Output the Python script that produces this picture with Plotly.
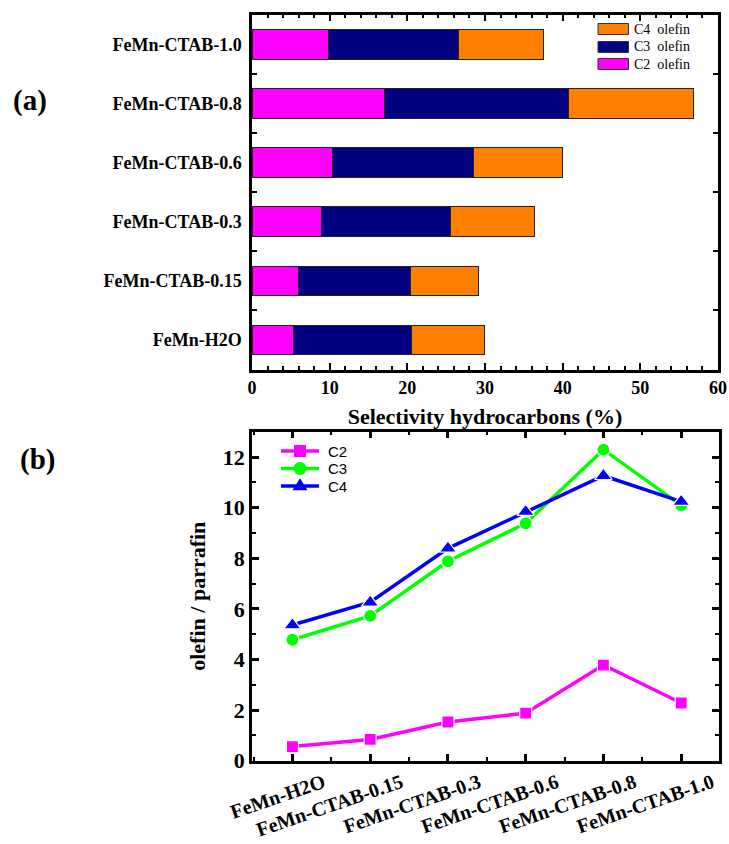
import plotly.graph_objects as go

# ---------------- data ----------------
categories = ["FeMn-H2O", "FeMn-CTAB-0.15", "FeMn-CTAB-0.3",
              "FeMn-CTAB-0.6", "FeMn-CTAB-0.8", "FeMn-CTAB-1.0"]

# (a) stacked selectivity (%)
c2_olefin = [5.3, 6.0, 8.9, 10.3, 17.0, 9.9]
c3_olefin = [15.2, 14.4, 16.7, 18.2, 23.8, 16.7]
c4_olefin = [9.4, 8.8, 10.8, 11.5, 16.0, 10.9]
bar_names = ["C2  olefin", "C3  olefin", "C4  olefin"]
bar_colors = ["#FF00FF", "#000080", "#FF8000"]

# (b) olefin / paraffin ratio
ratio_c2 = [0.56, 0.84, 1.53, 1.88, 3.78, 2.28]
ratio_c3 = [4.78, 5.72, 7.88, 9.38, 12.29, 10.09]
ratio_c4 = [5.36, 6.26, 8.39, 9.84, 11.26, 10.24]
line_names = ["C2", "C3", "C4"]
line_colors = ["#FF00FF", "#00FF00", "#0000FF"]
line_symbols = ["square", "circle", "triangle-up"]
line_msize = [12, 13, 15]

x_ticks_a = [0, 10, 20, 30, 40, 50, 60]
y_ticks_b = [0, 2, 4, 6, 8, 10, 12]

SERIF = "Times New Roman, Liberation Serif, serif"
SANS = "Arial, Liberation Sans, sans-serif"
W, H = 729, 844

fig = go.Figure()

# ---- (a) bars ----
for vals, name, col in zip([c2_olefin, c3_olefin, c4_olefin], bar_names, bar_colors):
    fig.add_trace(go.Bar(
        y=categories, x=vals, orientation="h", name=name,
        marker=dict(color=col, line=dict(color="#222222", width=1)),
        showlegend=False, xaxis="x", yaxis="y"))

# ---- (b) lines ----
xpos = list(range(len(categories)))
for vals, name, col, sym, ms in zip([ratio_c2, ratio_c3, ratio_c4], line_names,
                                    line_colors, line_symbols, line_msize):
    fig.add_trace(go.Scatter(
        x=xpos, y=vals, name=name, mode="lines+markers",
        line=dict(color=col, width=3.5),
        marker=dict(symbol=sym, size=ms, color=col, line=dict(color="white", width=1.2)),
        showlegend=False, xaxis="x2", yaxis="y2"))

def px_x(v):
    return v / W

def px_y(v):
    return 1 - v / H

axis_common = dict(showline=True, linecolor="black", linewidth=2.5, mirror="ticks",
                   ticks="inside", tickcolor="black", showgrid=False, zeroline=False,
                   automargin=False)

fig.update_layout(
    width=W, height=H, autosize=False,
    margin=dict(l=0, r=0, t=0, b=0),
    paper_bgcolor="white", plot_bgcolor="white",
    barmode="stack", bargap=0.5, showlegend=False,
    xaxis=dict(domain=[px_x(252), px_x(718)], anchor="y", range=[0, 60],
               tickvals=x_ticks_a, ticklen=7, tickwidth=2,
               minor=dict(ticks="inside", dtick=2, ticklen=4, tickwidth=1.5, tickcolor="black"),
               tickfont=dict(family=SERIF, size=18, color="black", weight="bold"),
               title=dict(text="Selectivity hydrocarbons (%)", standoff=12,
                          font=dict(family=SERIF, size=22, color="black", weight="bold")),
               **axis_common),
    yaxis=dict(domain=[px_y(369.5), px_y(14.7)], anchor="x", range=[-0.5, 5.5],
               type="category", tickson="boundaries", ticklen=5, tickwidth=1.5,
               ticklabelstandoff=4,
               tickfont=dict(family=SERIF, size=18, color="black", weight="bold"),
               **axis_common),
    xaxis2=dict(domain=[px_x(252), px_x(718.5)], anchor="y2", range=[-0.52, 5.48],
                tickvals=xpos, ticktext=categories, tickangle=-19,
                ticklen=7, tickwidth=2.5, ticklabelshift=31, ticklabelstandoff=0,
                minor=dict(ticks="inside", dtick=0.5, tick0=0, ticklen=4, tickwidth=2, tickcolor="black"),
                tickfont=dict(family=SERIF, size=20, color="black", weight="bold"),
                **axis_common),
    yaxis2=dict(domain=[px_y(760.7), px_y(431.7)], anchor="x2", range=[0, 13],
                tickvals=y_ticks_b, ticklen=7, tickwidth=2.5,
                minor=dict(ticks="inside", dtick=1, ticklen=4, tickwidth=2, tickcolor="black"),
                tickfont=dict(family=SERIF, size=22, color="black", weight="bold"),
                title=dict(text="olefin / parrafin", standoff=12,
                           font=dict(family=SERIF, size=22, color="black", weight="bold")),
                **axis_common),
)

# manual legend for panel (a) (wide rectangles like the original)
legend_rows_y = [64, 47, 29]  # C2, C3, C4 (drawn top->bottom as C4, C3, C2)
for name, col, yc in zip(bar_names, bar_colors, legend_rows_y):
    fig.add_shape(type="rect", xref="paper", yref="paper",
                  x0=px_x(598), x1=px_x(628.5), y0=px_y(yc + 5.5), y1=px_y(yc - 5.5),
                  fillcolor=col, line=dict(color="#333333", width=1))
    fig.add_annotation(xref="paper", yref="paper", x=px_x(632), y=px_y(yc),
                       xanchor="left", yanchor="middle", showarrow=False,
                       text=name.replace("  ", "&nbsp; "),
                       font=dict(family=SERIF, size=14, color="black"))

# manual legend for panel (b) (line + marker glyph + label)
legend2_rows_y = [451, 468.5, 486]
lx0, lx1, lxc = 281, 319, 300
for name, col, sym, ms, yc in zip(line_names, line_colors, line_symbols, line_msize, legend2_rows_y):
    fig.add_shape(type="line", xref="paper", yref="paper",
                  x0=px_x(lx0), x1=px_x(lx1), y0=px_y(yc), y1=px_y(yc),
                  line=dict(color=col, width=3.5))
    h = ms / 2
    if sym == "square":
        fig.add_shape(type="rect", xref="paper", yref="paper",
                      x0=px_x(lxc - h), x1=px_x(lxc + h), y0=px_y(yc + h), y1=px_y(yc - h),
                      fillcolor=col, line=dict(width=0))
    elif sym == "circle":
        fig.add_shape(type="circle", xref="paper", yref="paper",
                      x0=px_x(lxc - h), x1=px_x(lxc + h), y0=px_y(yc + h), y1=px_y(yc - h),
                      fillcolor=col, line=dict(width=0))
    else:
        path = "M {:.5f} {:.5f} L {:.5f} {:.5f} L {:.5f} {:.5f} Z".format(
            px_x(lxc - h), px_y(yc + h * 0.55),
            px_x(lxc + h), px_y(yc + h * 0.55),
            px_x(lxc), px_y(yc - h * 1.05))
        fig.add_shape(type="path", xref="paper", yref="paper", path=path,
                      fillcolor=col, line=dict(width=0))
    fig.add_annotation(xref="paper", yref="paper", x=px_x(326), y=px_y(yc),
                       xanchor="left", yanchor="middle", showarrow=False, text=name,
                       font=dict(family=SANS, size=15, color="black"))

# panel labels
fig.add_annotation(xref="paper", yref="paper", x=px_x(30), y=px_y(100),
                   xanchor="center", yanchor="middle", showarrow=False, text="(a)",
                   font=dict(family=SERIF, size=29, color="black", weight="bold"))
fig.add_annotation(xref="paper", yref="paper", x=px_x(37), y=px_y(460),
                   xanchor="center", yanchor="middle", showarrow=False, text="(b)",
                   font=dict(family=SERIF, size=29, color="black", weight="bold"))

fig.write_html("out.html")
